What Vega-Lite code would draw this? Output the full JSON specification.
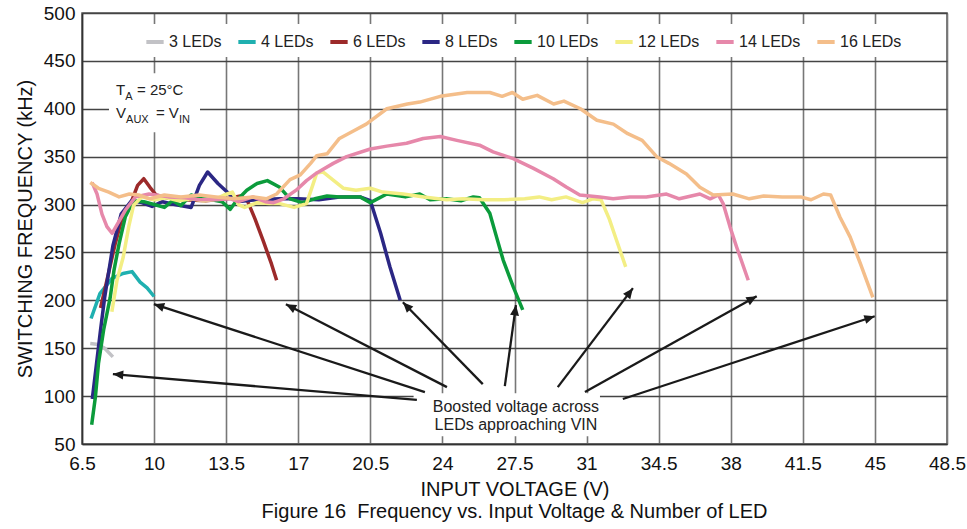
{
  "$schema": "https://vega.github.io/schema/vega-lite/v6.json",
  "width": 865,
  "height": 431,
  "autosize": {"type": "none"},
  "padding": {"left": 82, "top": 13, "right": 20, "bottom": 85},
  "background": "white",
  "title": {"text": "Figure 16\u00a0 Frequency vs. Input Voltage & Number of LED", "orient": "bottom", "anchor": "middle", "font": "Liberation Sans", "fontSize": 20, "fontWeight": "normal", "color": "#111", "offset": 3},
  "config": {
    "view": {"stroke": "#555", "strokeWidth": 1.5},
    "axis": {"labelFont": "Liberation Sans", "titleFont": "Liberation Sans", "labelColor": "#111", "titleColor": "#111", "titleFontWeight": "normal", "domainColor": "#333", "domainWidth": 1.5, "ticks": false, "labelFlush": false, "labelOverlap": false},
    "axisX": {"labelFontSize": 19, "titleFontSize": 20, "labelPadding": 10, "titlePadding": 6, "gridColor": "#777", "gridWidth": 1.6, "gridOpacity": 1},
    "axisY": {"labelFontSize": 19, "titleFontSize": 20, "labelPadding": 7, "titlePadding": 8, "gridColor": "#444", "gridWidth": 1.4, "gridOpacity": 1}
  },
  "datasets": {
    "curves": [
      {"s":"3 LEDs","v":6.9,"f":155},{"s":"3 LEDs","v":7.3,"f":154},{"s":"3 LEDs","v":7.6,"f":150},{"s":"3 LEDs","v":8.0,"f":141},
      {"s":"4 LEDs","v":6.94,"f":181},{"s":"4 LEDs","v":7.37,"f":207},{"s":"4 LEDs","v":7.96,"f":223},{"s":"4 LEDs","v":8.49,"f":228},{"s":"4 LEDs","v":8.93,"f":230},{"s":"4 LEDs","v":9.32,"f":219},{"s":"4 LEDs","v":9.66,"f":213},{"s":"4 LEDs","v":10.0,"f":204},
      {"s":"6 LEDs","v":7.4,"f":192},{"s":"6 LEDs","v":7.7,"f":220},{"s":"6 LEDs","v":8.1,"f":258},{"s":"6 LEDs","v":8.5,"f":290},{"s":"6 LEDs","v":8.9,"f":303},{"s":"6 LEDs","v":9.2,"f":320},{"s":"6 LEDs","v":9.5,"f":327},{"s":"6 LEDs","v":9.8,"f":318},{"s":"6 LEDs","v":10.1,"f":310},{"s":"6 LEDs","v":10.6,"f":307},{"s":"6 LEDs","v":11.5,"f":305},{"s":"6 LEDs","v":12.5,"f":304},{"s":"6 LEDs","v":13.5,"f":306},{"s":"6 LEDs","v":14.2,"f":309},{"s":"6 LEDs","v":14.55,"f":303},{"s":"6 LEDs","v":14.9,"f":285},{"s":"6 LEDs","v":15.3,"f":262},{"s":"6 LEDs","v":15.7,"f":238},{"s":"6 LEDs","v":15.95,"f":221},
      {"s":"8 LEDs","v":7.0,"f":97},{"s":"8 LEDs","v":7.2,"f":133},{"s":"8 LEDs","v":7.4,"f":169},{"s":"8 LEDs","v":7.6,"f":203},{"s":"8 LEDs","v":8.0,"f":257},{"s":"8 LEDs","v":8.4,"f":290},{"s":"8 LEDs","v":8.9,"f":304},{"s":"8 LEDs","v":9.4,"f":302},{"s":"8 LEDs","v":9.9,"f":298},{"s":"8 LEDs","v":10.4,"f":303},{"s":"8 LEDs","v":11.0,"f":300},{"s":"8 LEDs","v":11.8,"f":297},{"s":"8 LEDs","v":12.2,"f":320},{"s":"8 LEDs","v":12.6,"f":334},{"s":"8 LEDs","v":13.1,"f":322},{"s":"8 LEDs","v":13.6,"f":312},{"s":"8 LEDs","v":14.0,"f":303},{"s":"8 LEDs","v":15.0,"f":305},{"s":"8 LEDs","v":16.1,"f":306},{"s":"8 LEDs","v":17.0,"f":306},{"s":"8 LEDs","v":18.0,"f":305},{"s":"8 LEDs","v":19.0,"f":308},{"s":"8 LEDs","v":20.0,"f":308},{"s":"8 LEDs","v":20.5,"f":304},{"s":"8 LEDs","v":21.0,"f":270},{"s":"8 LEDs","v":21.45,"f":235},{"s":"8 LEDs","v":21.95,"f":200},
      {"s":"10 LEDs","v":6.97,"f":70},{"s":"10 LEDs","v":7.15,"f":99},{"s":"10 LEDs","v":7.3,"f":134},{"s":"10 LEDs","v":7.55,"f":169},{"s":"10 LEDs","v":7.87,"f":203},{"s":"10 LEDs","v":8.05,"f":231},{"s":"10 LEDs","v":8.3,"f":259},{"s":"10 LEDs","v":8.6,"f":287},{"s":"10 LEDs","v":9.0,"f":304},{"s":"10 LEDs","v":9.5,"f":303},{"s":"10 LEDs","v":10.0,"f":300},{"s":"10 LEDs","v":10.5,"f":297},{"s":"10 LEDs","v":10.9,"f":304},{"s":"10 LEDs","v":11.3,"f":299},{"s":"10 LEDs","v":11.8,"f":310},{"s":"10 LEDs","v":12.3,"f":306},{"s":"10 LEDs","v":12.8,"f":305},{"s":"10 LEDs","v":13.3,"f":303},{"s":"10 LEDs","v":13.7,"f":295},{"s":"10 LEDs","v":14.0,"f":304},{"s":"10 LEDs","v":14.5,"f":315},{"s":"10 LEDs","v":15.0,"f":322},{"s":"10 LEDs","v":15.5,"f":325},{"s":"10 LEDs","v":16.1,"f":318},{"s":"10 LEDs","v":16.6,"f":306},{"s":"10 LEDs","v":17.2,"f":302},{"s":"10 LEDs","v":17.8,"f":306},{"s":"10 LEDs","v":18.4,"f":309},{"s":"10 LEDs","v":19.0,"f":308},{"s":"10 LEDs","v":20.0,"f":308},{"s":"10 LEDs","v":20.5,"f":302},{"s":"10 LEDs","v":21.3,"f":311},{"s":"10 LEDs","v":22.2,"f":308},{"s":"10 LEDs","v":22.9,"f":311},{"s":"10 LEDs","v":23.4,"f":305},{"s":"10 LEDs","v":24.2,"f":306},{"s":"10 LEDs","v":24.9,"f":304},{"s":"10 LEDs","v":25.5,"f":308},{"s":"10 LEDs","v":25.8,"f":307},{"s":"10 LEDs","v":26.3,"f":291},{"s":"10 LEDs","v":26.63,"f":266},{"s":"10 LEDs","v":26.95,"f":242},{"s":"10 LEDs","v":27.44,"f":214},{"s":"10 LEDs","v":27.9,"f":190},
      {"s":"12 LEDs","v":7.95,"f":188},{"s":"12 LEDs","v":8.2,"f":221},{"s":"12 LEDs","v":8.5,"f":245},{"s":"12 LEDs","v":8.77,"f":277},{"s":"12 LEDs","v":9.0,"f":299},{"s":"12 LEDs","v":9.4,"f":308},{"s":"12 LEDs","v":10.0,"f":305},{"s":"12 LEDs","v":10.6,"f":307},{"s":"12 LEDs","v":11.2,"f":304},{"s":"12 LEDs","v":11.8,"f":306},{"s":"12 LEDs","v":12.4,"f":304},{"s":"12 LEDs","v":12.9,"f":305},{"s":"12 LEDs","v":13.4,"f":310},{"s":"12 LEDs","v":13.8,"f":313},{"s":"12 LEDs","v":14.1,"f":300},{"s":"12 LEDs","v":14.4,"f":297},{"s":"12 LEDs","v":15.0,"f":302},{"s":"12 LEDs","v":15.6,"f":301},{"s":"12 LEDs","v":16.1,"f":301},{"s":"12 LEDs","v":16.8,"f":297},{"s":"12 LEDs","v":17.4,"f":301},{"s":"12 LEDs","v":17.7,"f":320},{"s":"12 LEDs","v":17.9,"f":333},{"s":"12 LEDs","v":18.2,"f":334},{"s":"12 LEDs","v":18.5,"f":329},{"s":"12 LEDs","v":19.2,"f":317},{"s":"12 LEDs","v":19.8,"f":315},{"s":"12 LEDs","v":20.5,"f":317},{"s":"12 LEDs","v":21.1,"f":313},{"s":"12 LEDs","v":22.1,"f":311},{"s":"12 LEDs","v":23.1,"f":308},{"s":"12 LEDs","v":24.2,"f":305},{"s":"12 LEDs","v":25.0,"f":306},{"s":"12 LEDs","v":26.0,"f":305},{"s":"12 LEDs","v":27.0,"f":305},{"s":"12 LEDs","v":28.0,"f":306},{"s":"12 LEDs","v":28.7,"f":308},{"s":"12 LEDs","v":29.3,"f":305},{"s":"12 LEDs","v":30.0,"f":308},{"s":"12 LEDs","v":30.8,"f":302},{"s":"12 LEDs","v":31.3,"f":306},{"s":"12 LEDs","v":31.7,"f":305},{"s":"12 LEDs","v":32.1,"f":285},{"s":"12 LEDs","v":32.45,"f":263},{"s":"12 LEDs","v":32.9,"f":235},
      {"s":"14 LEDs","v":6.99,"f":323},{"s":"14 LEDs","v":7.23,"f":311},{"s":"14 LEDs","v":7.47,"f":290},{"s":"14 LEDs","v":7.71,"f":277},{"s":"14 LEDs","v":7.96,"f":270},{"s":"14 LEDs","v":8.28,"f":282},{"s":"14 LEDs","v":8.6,"f":294},{"s":"14 LEDs","v":9.1,"f":308},{"s":"14 LEDs","v":9.75,"f":311},{"s":"14 LEDs","v":10.7,"f":308},{"s":"14 LEDs","v":11.5,"f":307},{"s":"14 LEDs","v":12.2,"f":305},{"s":"14 LEDs","v":13.0,"f":305},{"s":"14 LEDs","v":13.7,"f":306},{"s":"14 LEDs","v":14.1,"f":303},{"s":"14 LEDs","v":14.8,"f":308},{"s":"14 LEDs","v":15.4,"f":303},{"s":"14 LEDs","v":15.8,"f":302},{"s":"14 LEDs","v":16.3,"f":306},{"s":"14 LEDs","v":16.9,"f":315},{"s":"14 LEDs","v":17.4,"f":325},{"s":"14 LEDs","v":17.9,"f":333},{"s":"14 LEDs","v":18.7,"f":343},{"s":"14 LEDs","v":19.35,"f":350},{"s":"14 LEDs","v":20.5,"f":358},{"s":"14 LEDs","v":21.3,"f":361},{"s":"14 LEDs","v":22.26,"f":364},{"s":"14 LEDs","v":23.07,"f":369},{"s":"14 LEDs","v":23.9,"f":371},{"s":"14 LEDs","v":24.7,"f":367},{"s":"14 LEDs","v":25.8,"f":362},{"s":"14 LEDs","v":26.46,"f":355},{"s":"14 LEDs","v":27.44,"f":348},{"s":"14 LEDs","v":28.4,"f":338},{"s":"14 LEDs","v":29.38,"f":327},{"s":"14 LEDs","v":30.03,"f":318},{"s":"14 LEDs","v":30.67,"f":310},{"s":"14 LEDs","v":31.64,"f":308},{"s":"14 LEDs","v":32.29,"f":306},{"s":"14 LEDs","v":33.1,"f":308},{"s":"14 LEDs","v":33.9,"f":308},{"s":"14 LEDs","v":34.88,"f":311},{"s":"14 LEDs","v":35.5,"f":306},{"s":"14 LEDs","v":36.5,"f":311},{"s":"14 LEDs","v":37.0,"f":306},{"s":"14 LEDs","v":37.4,"f":310},{"s":"14 LEDs","v":37.63,"f":301},{"s":"14 LEDs","v":37.96,"f":277},{"s":"14 LEDs","v":38.28,"f":256},{"s":"14 LEDs","v":38.85,"f":221},
      {"s":"16 LEDs","v":6.9,"f":323},{"s":"16 LEDs","v":7.3,"f":317},{"s":"16 LEDs","v":7.8,"f":313},{"s":"16 LEDs","v":8.3,"f":308},{"s":"16 LEDs","v":8.8,"f":311},{"s":"16 LEDs","v":9.25,"f":310},{"s":"16 LEDs","v":9.8,"f":306},{"s":"16 LEDs","v":10.5,"f":310},{"s":"16 LEDs","v":11.3,"f":308},{"s":"16 LEDs","v":12.2,"f":310},{"s":"16 LEDs","v":13.0,"f":308},{"s":"16 LEDs","v":13.9,"f":306},{"s":"16 LEDs","v":14.8,"f":308},{"s":"16 LEDs","v":15.45,"f":306},{"s":"16 LEDs","v":15.95,"f":311},{"s":"16 LEDs","v":16.6,"f":326},{"s":"16 LEDs","v":17.1,"f":331},{"s":"16 LEDs","v":17.6,"f":343},{"s":"16 LEDs","v":17.9,"f":351},{"s":"16 LEDs","v":18.4,"f":353},{"s":"16 LEDs","v":19.0,"f":369},{"s":"16 LEDs","v":19.7,"f":377},{"s":"16 LEDs","v":20.3,"f":384},{"s":"16 LEDs","v":21.3,"f":400},{"s":"16 LEDs","v":22.3,"f":405},{"s":"16 LEDs","v":22.9,"f":407},{"s":"16 LEDs","v":23.9,"f":413},{"s":"16 LEDs","v":25.2,"f":417},{"s":"16 LEDs","v":26.3,"f":417},{"s":"16 LEDs","v":26.9,"f":413},{"s":"16 LEDs","v":27.4,"f":417},{"s":"16 LEDs","v":27.9,"f":410},{"s":"16 LEDs","v":28.6,"f":414},{"s":"16 LEDs","v":29.4,"f":405},{"s":"16 LEDs","v":29.9,"f":408},{"s":"16 LEDs","v":30.7,"f":400},{"s":"16 LEDs","v":31.5,"f":388},{"s":"16 LEDs","v":32.3,"f":384},{"s":"16 LEDs","v":33.0,"f":374},{"s":"16 LEDs","v":33.7,"f":367},{"s":"16 LEDs","v":34.4,"f":350},{"s":"16 LEDs","v":35.0,"f":343},{"s":"16 LEDs","v":35.85,"f":332},{"s":"16 LEDs","v":36.5,"f":318},{"s":"16 LEDs","v":37.15,"f":310},{"s":"16 LEDs","v":38.1,"f":311},{"s":"16 LEDs","v":38.9,"f":306},{"s":"16 LEDs","v":39.6,"f":309},{"s":"16 LEDs","v":40.5,"f":308},{"s":"16 LEDs","v":41.4,"f":308},{"s":"16 LEDs","v":41.9,"f":305},{"s":"16 LEDs","v":42.5,"f":311},{"s":"16 LEDs","v":42.85,"f":310},{"s":"16 LEDs","v":43.3,"f":287},{"s":"16 LEDs","v":43.8,"f":266},{"s":"16 LEDs","v":44.3,"f":238},{"s":"16 LEDs","v":44.9,"f":203}
    ],
    "boxes": [
      {"bx1": 7.81, "bx2": 12.23, "by1": 437, "by2": 375.4},
      {"bx1": 22.6, "bx2": 31.65, "by1": 103, "by2": 58}
    ],
    "arrows": [
      {"tx": 23.15, "ty": 104.2, "hx": 9.99, "hy": 196},
      {"tx": 24.22, "ty": 109.4, "hx": 16.4, "hy": 196},
      {"tx": 25.96, "ty": 112.5, "hx": 22.08, "hy": 198},
      {"tx": 27.03, "ty": 110.5, "hx": 27.57, "hy": 195},
      {"tx": 29.6, "ty": 109.4, "hx": 33.25, "hy": 212.7},
      {"tx": 30.92, "ty": 104.2, "hx": 39.26, "hy": 204.3},
      {"tx": 32.76, "ty": 97, "hx": 44.99, "hy": 183.4},
      {"tx": 22.76, "ty": 96, "hx": 8.0, "hy": 123}
    ],
    "notes": [
      {"nx": 27.57, "ny": 88.5, "t": "Boosted voltage across"},
      {"nx": 27.57, "ny": 69.8, "t": "LEDs approaching VIN"}
    ],
    "mainText": [
      {"mx": 8.15, "my": 414, "t": "T"},
      {"mx": 9.17, "my": 414, "t": "= 25°C"},
      {"mx": 8.15, "my": 390, "t": "V"},
      {"mx": 10.09, "my": 390, "t": "= V"}
    ],
    "subText": [
      {"sx": 8.6, "sy": 409.5, "t": "A"},
      {"sx": 8.64, "sy": 385, "t": "AUX"},
      {"sx": 11.21, "sy": 385, "t": "IN"}
    ]
  },
  "layer": [
    {
      "data": {"name": "boxes"},
      "mark": {"type": "rect", "fill": "white", "stroke": null},
      "encoding": {
        "x": {"field": "bx1", "type": "quantitative", "scale": {"domain": [6.5, 48.5], "nice": false, "zero": false}, "axis": {"title": "INPUT VOLTAGE (V)", "format": ".1~f", "values": [6.5, 10, 13.5, 17, 20.5, 24, 27.5, 31, 34.5, 38, 41.5, 45, 48.5]}},
        "x2": {"field": "bx2"},
        "y": {"field": "by1", "type": "quantitative", "scale": {"domain": [50, 500], "nice": false, "zero": false}, "axis": {"title": "SWITCHING FREQUENCY (kHz)", "values": [50, 100, 150, 200, 250, 300, 350, 400, 450, 500]}},
        "y2": {"field": "by2"}
      }
    },
    {
      "data": {"name": "curves"},
      "mark": {"type": "line", "strokeWidth": 3.5, "strokeJoin": "round"},
      "encoding": {
        "x": {"field": "v", "type": "quantitative", "title": "INPUT VOLTAGE (V)"},
        "y": {"field": "f", "type": "quantitative", "title": "SWITCHING FREQUENCY (kHz)"},
        "color": {
          "field": "s", "type": "nominal",
          "scale": {"domain": ["3 LEDs", "4 LEDs", "6 LEDs", "8 LEDs", "10 LEDs", "12 LEDs", "14 LEDs", "16 LEDs"], "range": ["#c2c2c6", "#1fb0b0", "#9c2a2a", "#2b2784", "#0b9b3b", "#f3ee84", "#e688aa", "#f4be8a"]},
          "legend": {"title": null, "orient": "none", "legendX": 55, "legendY": 11, "direction": "horizontal", "symbolType": "stroke", "symbolStrokeWidth": 4, "symbolSize": 300, "labelFont": "Liberation Sans", "labelFontSize": 16, "labelColor": "#222", "labelOffset": 3, "columnPadding": 8, "fillColor": "white", "padding": 7, "labelLimit": 200}
        }
      }
    },
    {
      "data": {"name": "arrows"},
      "mark": {"type": "rule", "color": "#1a1a1a", "strokeWidth": 2.3},
      "encoding": {
        "x": {"field": "tx", "type": "quantitative", "title": "INPUT VOLTAGE (V)"},
        "x2": {"field": "hx"},
        "y": {"field": "ty", "type": "quantitative", "title": "SWITCHING FREQUENCY (kHz)"},
        "y2": {"field": "hy"}
      }
    },
    {
      "data": {"name": "arrows"},
      "transform": [{"calculate": "atan2((datum.hx - datum.tx) * 20.595, (datum.hy - datum.ty) * 0.9578) * 180 / PI", "as": "ang"}],
      "mark": {"type": "point", "shape": "M0,0L0.5,1.15L-0.5,1.15Z", "filled": true, "color": "#1a1a1a", "size": 324, "opacity": 1},
      "encoding": {
        "x": {"field": "hx", "type": "quantitative", "title": "INPUT VOLTAGE (V)"},
        "y": {"field": "hy", "type": "quantitative", "title": "SWITCHING FREQUENCY (kHz)"},
        "angle": {"field": "ang", "type": "quantitative", "scale": null}
      }
    },
    {
      "data": {"name": "notes"},
      "mark": {"type": "text", "font": "Liberation Sans", "fontSize": 16, "color": "#222", "align": "center", "baseline": "middle"},
      "encoding": {
        "x": {"field": "nx", "type": "quantitative", "title": "INPUT VOLTAGE (V)"},
        "y": {"field": "ny", "type": "quantitative", "title": "SWITCHING FREQUENCY (kHz)"},
        "text": {"field": "t"}
      }
    },
    {
      "data": {"name": "mainText"},
      "mark": {"type": "text", "font": "Liberation Sans", "fontSize": 15, "color": "#222", "align": "left", "baseline": "alphabetic"},
      "encoding": {
        "x": {"field": "mx", "type": "quantitative", "title": "INPUT VOLTAGE (V)"},
        "y": {"field": "my", "type": "quantitative", "title": "SWITCHING FREQUENCY (kHz)"},
        "text": {"field": "t"}
      }
    },
    {
      "data": {"name": "subText"},
      "mark": {"type": "text", "font": "Liberation Sans", "fontSize": 11, "color": "#222", "align": "left", "baseline": "alphabetic"},
      "encoding": {
        "x": {"field": "sx", "type": "quantitative", "title": "INPUT VOLTAGE (V)"},
        "y": {"field": "sy", "type": "quantitative", "title": "SWITCHING FREQUENCY (kHz)"},
        "text": {"field": "t"}
      }
    }
  ]
}
